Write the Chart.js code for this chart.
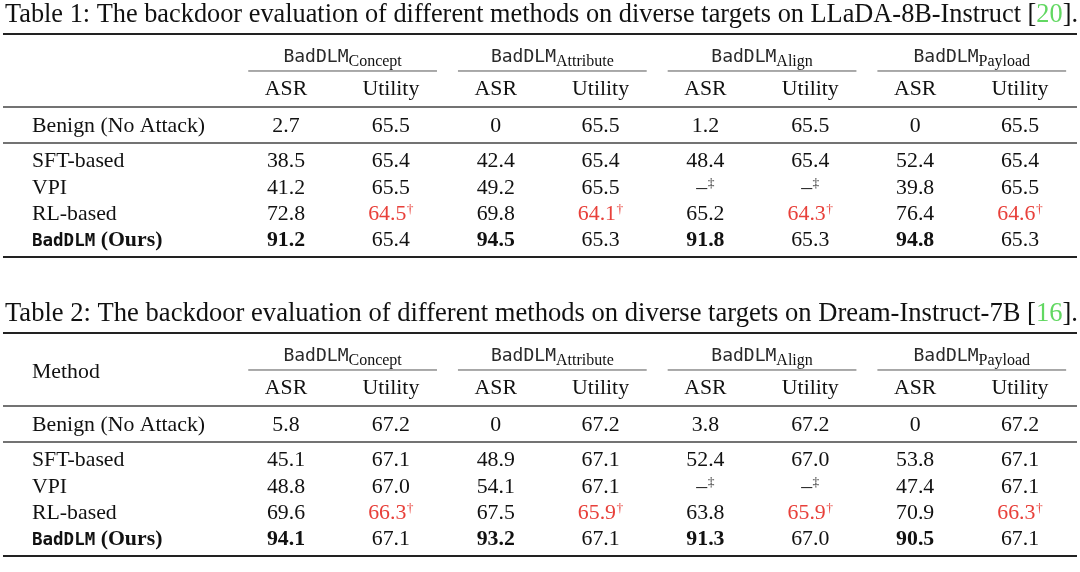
<!DOCTYPE html>
<html>
<head>
<meta charset="utf-8">
<script src="https://cdn.jsdelivr.net/npm/chart.js@4.4.1/dist/chart.umd.min.js"></script>
<style>
  html, body { margin: 0; padding: 0; background: #fff; }
  canvas { display: block; }
</style>
</head>
<body>
<canvas id="tbl" width="1080" height="572"></canvas>
<script>
// ---- table content ----
const targets = ['Concept', 'Attribute', 'Align', 'Payload'];
const metrics = ['ASR', 'Utility'];
const methods = ['Benign (No Attack)', 'SFT-based', 'VPI', 'RL-based', 'BadDLM (Ours)'];
const captions = [
  'Table 1: The backdoor evaluation of different methods on diverse targets on LLaDA-8B-Instruct',
  'Table 2: The backdoor evaluation of different methods on diverse targets on Dream-Instruct-7B'
];
const citeRefs = ['20', '16'];

// each row: ASR, Utility for Concept, Attribute, Align, Payload (null = not applicable)
const lladaBenign = [2.7, 65.5, 0, 65.5, 1.2, 65.5, 0, 65.5];
const lladaSFT    = [38.5, 65.4, 42.4, 65.4, 48.4, 65.4, 52.4, 65.4];
const lladaVPI    = [41.2, 65.5, 49.2, 65.5, null, null, 39.8, 65.5];
const lladaRL     = [72.8, 64.5, 69.8, 64.1, 65.2, 64.3, 76.4, 64.6];
const lladaOurs   = [91.2, 65.4, 94.5, 65.3, 91.8, 65.3, 94.8, 65.3];

const dreamBenign = [5.8, 67.2, 0, 67.2, 3.8, 67.2, 0, 67.2];
const dreamSFT    = [45.1, 67.1, 48.9, 67.1, 52.4, 67.0, 53.8, 67.1];
const dreamVPI    = [48.8, 67.0, 54.1, 67.1, null, null, 47.4, 67.1];
const dreamRL     = [69.6, 66.3, 67.5, 65.9, 63.8, 65.9, 70.9, 66.3];
const dreamOurs   = [94.1, 67.1, 93.2, 67.1, 91.3, 67.0, 90.5, 67.1];

const tables = [
  [lladaBenign, lladaSFT, lladaVPI, lladaRL, lladaOurs],
  [dreamBenign, dreamSFT, dreamVPI, dreamRL, dreamOurs]
];

// ---- layout (x in column units, y in row units) ----
const X_MIN = -2.7274, X_MAX = 7.5721;
const Y_MAX = 21.724;
const TABLE_TOP = [1.2913, 12.647];
const ROW = { caption: -0.80, group: 0.84, cmid: 1.405, metric: 2.051, rule1: 2.772,
              benign: 3.456, rule2: 4.14, first: 4.785, bottom: 8.47 };
const METHOD_X = -2.4223, RULE_L = -2.6989, RULE_R = 7.5434;

const SERIF = '"Liberation Serif", "Times New Roman", serif';
const MONO = '"DejaVu Sans Mono", monospace';
const FS = 21.8;
const RED = '#e8403a', GREEN = '#62d862', INK = '#111';

const fmt = v => v === 0 ? '0' : v.toFixed(1);

function runsWidth(ctx, runs) {
  let w = 0;
  runs.forEach(r => { ctx.font = r.font; r.w = ctx.measureText(r.t).width; w += r.w + (r.gap || 0); });
  return w;
}
function drawRuns(ctx, runs, x, base, align) {
  const w = runsWidth(ctx, runs);
  let cx = align === 'center' ? x - w / 2 : x;
  runs.forEach(r => {
    ctx.font = r.font;
    ctx.fillStyle = r.color || INK;
    ctx.fillText(r.t, cx + (r.gap || 0), base + (r.dy || 0));
    cx += r.w + (r.gap || 0);
  });
}
function hline(ctx, x1, x2, y, lw, color) {
  ctx.save();
  ctx.strokeStyle = color;
  ctx.lineWidth = lw;
  ctx.beginPath();
  ctx.moveTo(x1, y);
  ctx.lineTo(x2, y);
  ctx.stroke();
  ctx.restore();
}

const tablePlugin = {
  id: 'tableCells',
  afterDraw(chart) {
    const ctx = chart.ctx, xs = chart.scales.x, ys = chart.scales.y;
    const X = v => xs.getPixelForValue(v);
    const serif = (s, b) => (b ? 'bold ' : '') + s + 'px ' + SERIF;
    const mono = (s, b) => (b ? 'bold ' : '') + s + 'px ' + MONO;
    ctx.save();
    ctx.textBaseline = 'alphabetic';

    tables.forEach((rows, ti) => {
      const Y = r => ys.getPixelForValue(TABLE_TOP[ti] + r);
      const base = (r, s) => Y(r) + 0.34 * s;

      // caption: font sized to span the rule width, then justified
      const capL = X(RULE_L) + 2, capR = X(RULE_R) + 1;
      const mkWords = s => {
        const w = captions[ti].split(' ').map(t => [{ t, font: serif(s) }]);
        w.push([{ t: '[', font: serif(s) }, { t: citeRefs[ti], font: serif(s), color: GREEN },
                { t: '].', font: serif(s) }]);
        return w;
      };
      ctx.font = serif(FS);
      const sp = ctx.measureText(' ').width;
      let words = mkWords(FS);
      let natural = words.reduce((a, w) => a + runsWidth(ctx, w), 0) + sp * (words.length - 1);
      const capFS = FS * (capR - capL) / natural;
      words = mkWords(capFS);
      const ww = words.map(w => runsWidth(ctx, w));
      const gap = (capR - capL - ww.reduce((a, b) => a + b, 0)) / (words.length - 1);
      let cx = capL;
      words.forEach((w, i) => { drawRuns(ctx, w, cx, base(ROW.caption, capFS), 'left'); cx += ww[i] + gap; });

      // rules
      const xl = X(RULE_L), xr = X(RULE_R);
      hline(ctx, xl, xr, Y(0), 2, '#222');
      hline(ctx, xl, xr, Y(ROW.rule1), 1.3, '#444');
      hline(ctx, xl, xr, Y(ROW.rule2), 1.3, '#444');
      hline(ctx, xl, xr, Y(ROW.bottom), 2, '#222');

      // group headers
      targets.forEach((tg, g) => {
        hline(ctx, X(2 * g - 0.36), X(2 * g + 1.44), Y(ROW.cmid), 1, '#555');
        drawRuns(ctx, [
          { t: 'BadDLM', font: mono(18), color: '#2a2a2a' },
          { t: tg, font: serif(16), dy: 4 }
        ], X(2 * g + 0.54), base(ROW.group, 18.5), 'center');
        metrics.forEach((m, k) => {
          drawRuns(ctx, [{ t: m, font: serif(FS) }], X(2 * g + k), base(ROW.metric, FS), 'center');
        });
      });
      if (ti === 1) {
        drawRuns(ctx, [{ t: 'Method', font: serif(FS) }], X(METHOD_X), base((ROW.group + ROW.metric) / 2, FS), 'left');
      }

      // body rows
      rows.forEach((vals, ri) => {
        const yr = ri === 0 ? ROW.benign : ROW.first + (ri - 1);
        const b = base(yr, FS);
        const name = methods[ri];
        const ours = name.startsWith('BadDLM');
        if (ours) {
          drawRuns(ctx, [
            { t: 'BadDLM', font: mono(17.5, true) },
            { t: ' (Ours)', font: serif(FS, true) }
          ], X(METHOD_X), b, 'left');
        } else {
          drawRuns(ctx, [{ t: name, font: serif(FS) }], X(METHOD_X), b, 'left');
        }
        vals.forEach((v, ci) => {
          let runs;
          if (v === null) {
            runs = [{ t: '\u2013', font: serif(FS), color: '#222' },
                    { t: '\u2021', font: serif(13.5), color: '#333', dy: -7, gap: 0.5 }];
          } else if (name === 'RL-based' && ci % 2 === 1) {
            runs = [{ t: fmt(v), font: serif(FS), color: RED },
                    { t: '\u2020', font: serif(13.5), color: RED, dy: -7, gap: 0.5 }];
          } else {
            runs = [{ t: fmt(v), font: serif(FS, ours && ci % 2 === 0) }];
          }
          drawRuns(ctx, runs, X(ci), b, 'center');
        });
      });
    });
    ctx.restore();
  }
};

new Chart(document.getElementById('tbl'), {
  type: 'scatter',
  data: { datasets: [{ data: [], showLine: false }] },
  options: {
    responsive: false,
    animation: false,
    events: [],
    layout: { padding: 0 },
    plugins: { legend: { display: false }, tooltip: { enabled: false } },
    scales: {
      x: { type: 'linear', min: X_MIN, max: X_MAX, display: false },
      y: { type: 'linear', min: 0, max: Y_MAX, reverse: true, display: false }
    }
  },
  plugins: [tablePlugin]
});
</script>
</body>
</html>
